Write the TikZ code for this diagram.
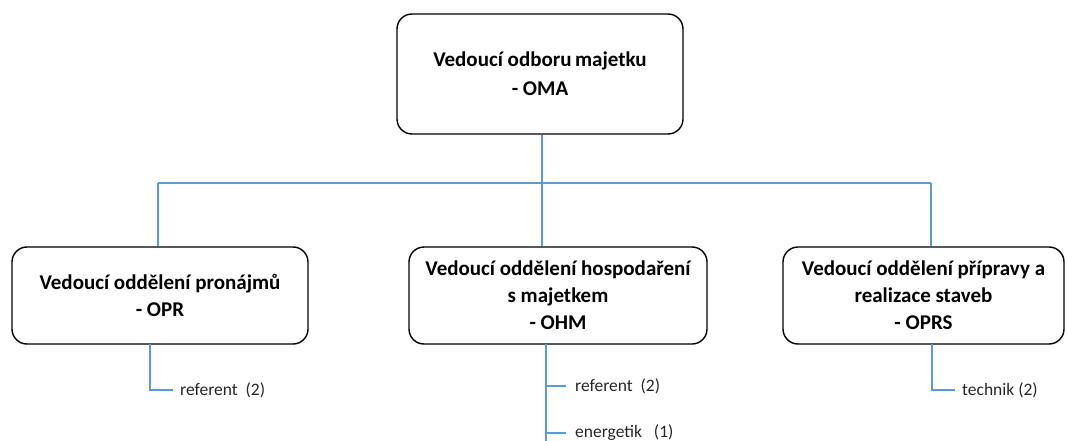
\documentclass[tikz,border=0pt]{standalone}
\usepackage{fontspec}
\setmainfont{Carlito}
\usetikzlibrary{calc}
\definecolor{linkblue}{RGB}{91,155,213}
\tikzset{
  unitbox/.style={draw=black, line width=1.4pt, rounded corners=15pt, fill=white,
    align=center, font=\fontsize{21}{27}\selectfont\bfseries, inner sep=0pt},
  link/.style={draw=linkblue, line width=1.2pt},
  staff/.style={anchor=west, font=\fontsize{17.5}{20}\selectfont, inner sep=0pt, text=black!85}
}
\begin{document}
\begin{tikzpicture}[x=1pt,y=-1pt]
  \useasboundingbox (0,0) rectangle (1067,441);

  % management boxes
  \node[unitbox, minimum width=286pt, minimum height=120pt] (oma) at (540,74)
    {Vedoucí odboru\,majetku\\[2pt]- OMA};
  \node[unitbox, minimum width=296pt, minimum height=97pt] (opr) at (160,295.5)
    {Vedoucí oddělení pronájmů\\- OPR};
  \node[unitbox, minimum width=298pt, minimum height=97pt] (ohm) at (558,295.5)
    {Vedoucí oddělení hospodaření\\s majetkem\\- OHM};
  \node[unitbox, minimum width=281pt, minimum height=97pt] (oprs) at (923.5,295.5)
    {Vedoucí oddělení přípravy a\\realizace staveb\\- OPRS};

  % staff labels
  \node[staff] (r1) at (180,390) {referent\ \ (2)};
  \node[staff] (r2) at (575,386) {referent\ \ (2)};
  \node[staff] (e2) at (575,433) {energetik\ \ \ (1)};
  \node[staff] (t3) at (962,390) {technik (2)};

  % hierarchy connectors
  \coordinate (bus) at (542,183);
  \coordinate (busL) at (158,183);
  \coordinate (busR) at (931,183);
  \draw[link] (oma.south -| bus) -- (bus);
  \draw[link] (busL) -- (busR);
  \draw[link] (busL) -- (busL |- opr.north);
  \draw[link] (bus) -- (bus |- ohm.north);
  \draw[link] (busR) -- (busR |- oprs.north);

  % staff connectors
  \coordinate (s1) at (150,344);
  \coordinate (s2) at (546,344);
  \coordinate (s2end) at (546,441);
  \coordinate (s3) at (932,344);
  \draw[link] (s1) |- ($(r1.west)+(-7,0)$);
  \draw[link] (s2) -- (s2end);
  \draw[link] (s2 |- r2.west) -- ($(r2.west)+(-9,0)$);
  \draw[link] (s2 |- e2.west) -- ($(e2.west)+(-9,0)$);
  \draw[link] (s3) |- ($(t3.west)+(-7,0)$);
\end{tikzpicture}
\end{document}
